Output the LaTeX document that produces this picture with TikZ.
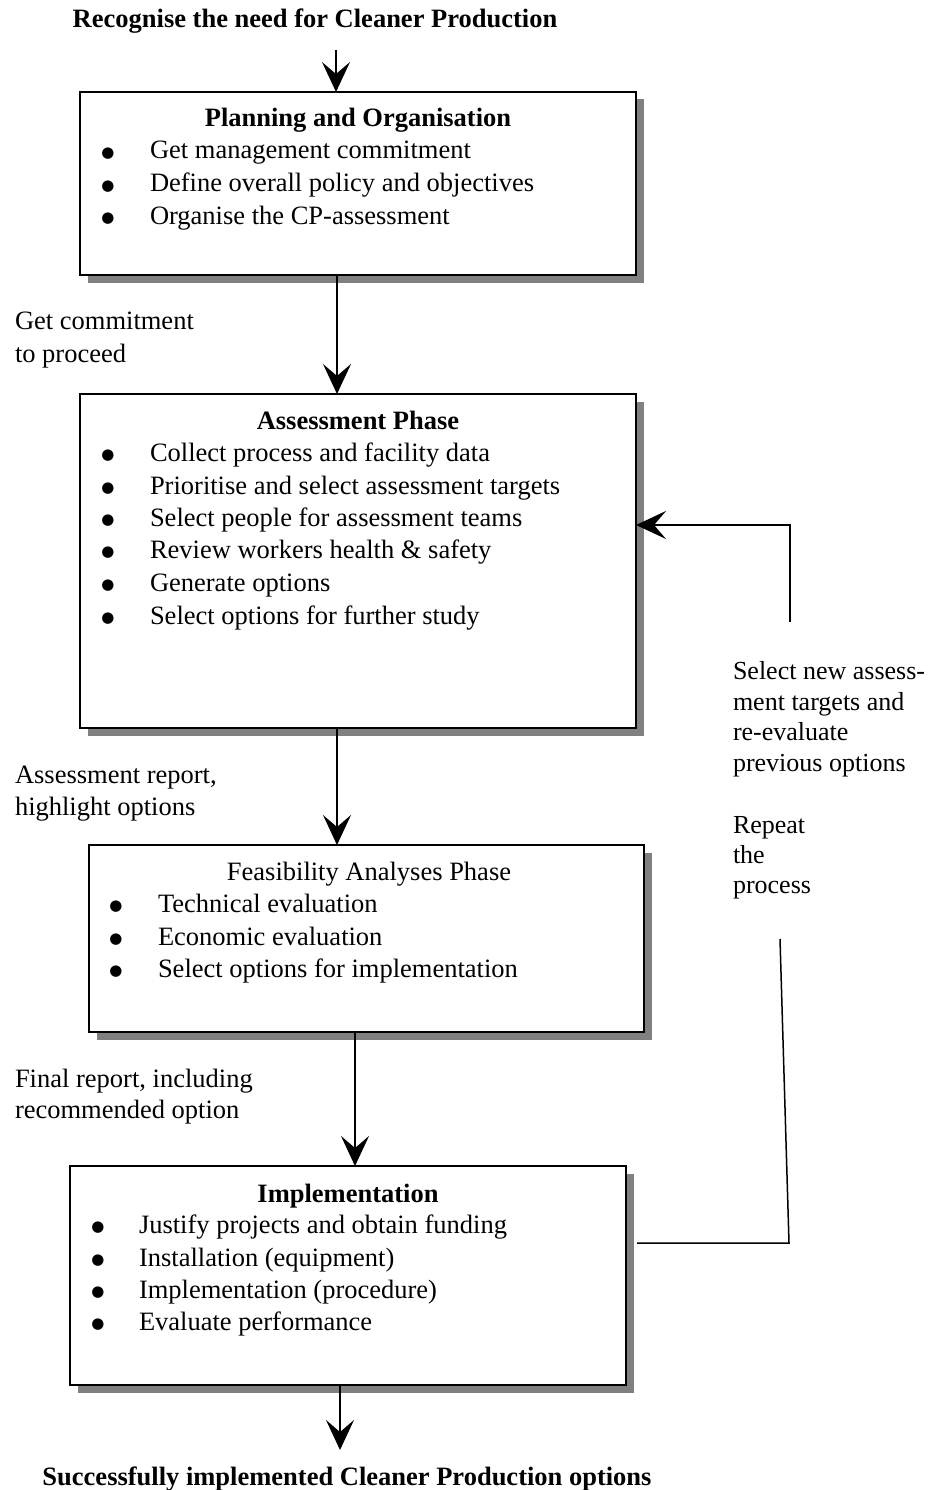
\documentclass[tikz,border=0pt]{standalone}
\usepackage{fontspec}
\setmainfont{Liberation Serif}
\newfontfamily\dotfont{DejaVu Sans}
\usetikzlibrary{arrows.meta,shadows}
\begin{document}
\begin{tikzpicture}[x=1pt,y=-1pt,
  every node/.style={inner sep=0pt,outer sep=0pt,font=\fontsize{26.5}{33}\selectfont},
  box/.style={draw,line width=1.8pt,fill=white,anchor=north west,
    drop shadow={shadow xshift=7.5pt,shadow yshift=-7.5pt,fill=black!50,opacity=1}},
  arr/.style={line width=1.5pt,-{Stealth[length=30pt,width=28pt,inset=12pt]}},
  link/.style={line width=1.5pt},
  ttl/.style={anchor=base,font=\fontsize{26.5}{33}\selectfont\bfseries},
  hd/.style={anchor=base},
  bul/.style={anchor=center,yshift=5pt,font=\dotfont\fontsize{15}{15}\selectfont},
  itm/.style={anchor=base west},
  lbl/.style={anchor=base west},
  note/.style={anchor=base west,font=\fontsize{26}{30.5}\selectfont}]
\useasboundingbox (0,0) rectangle (934,1490);

% phase boxes
\node[box,minimum width=556pt,minimum height=183pt] (b1) at (80,92) {};
\node[box,minimum width=556pt,minimum height=334pt] (b2) at (80,394) {};
\node[box,minimum width=555pt,minimum height=187pt] (b3) at (89,845) {};
\node[box,minimum width=556pt,minimum height=219pt] (b4) at (70,1166) {};

% start and result
\node[ttl] (start) at (315,28) {Recognise the need for Cleaner Production};
\node[ttl] (result) at (347,1485) {Successfully implemented Cleaner Production options};

% Planning and Organisation
\node[ttl] (t1) at (358,127) {Planning and Organisation};
\foreach \y/\t [count=\i] in {159/Get management commitment,
    191.5/Define overall policy and objectives,
    224/Organise the CP-assessment}{
  \node[bul] (p1b\i) at (108,\y) {●};
  \node[itm] (p1t\i) at (150,\y) {\t};
}

% Assessment Phase
\node[ttl] (t2) at (358,429) {Assessment Phase};
\foreach \y/\t [count=\i] in {461/Collect process and facility data,
    494/Prioritise and select assessment targets,
    526/Select people for assessment teams,
    558/Review workers health \& safety,
    591/Generate options,
    624/Select options for further study}{
  \node[bul] (p2b\i) at (108,\y) {●};
  \node[itm] (p2t\i) at (150,\y) {\t};
}

% Feasibility Analyses Phase
\node[hd] (t3) at (369,880) {Feasibility Analyses Phase};
\foreach \y/\t [count=\i] in {912/Technical evaluation,
    945/Economic evaluation,
    977/Select options for implementation}{
  \node[bul] (p3b\i) at (116,\y) {●};
  \node[itm] (p3t\i) at (158,\y) {\t};
}

% Implementation
\node[ttl] (t4) at (348,1202) {Implementation};
\foreach \y/\t [count=\i] in {1233/Justify projects and obtain funding,
    1266/Installation (equipment),
    1298/Implementation (procedure),
    1330/Evaluate performance}{
  \node[bul] (p4b\i) at (98,\y) {●};
  \node[itm] (p4t\i) at (139,\y) {\t};
}

% transition labels
\node[lbl] (l1a) at (15,329) {Get commitment};
\node[lbl] (l1b) at (15,362) {to proceed};
\node[lbl] (l2a) at (15,783) {Assessment report,};
\node[lbl] (l2b) at (15,815) {highlight options};
\node[lbl] (l3a) at (15,1087) {Final report, including};
\node[lbl] (l3b) at (15,1118) {recommended option};

\node[note] (r1) at (733,679) {Select new assess-};
\node[note] (r2) at (733,710) {ment targets and};
\node[note] (r3) at (733,740) {re-evaluate};
\node[note] (r4) at (733,771) {previous options};
\node[note] (r5) at (733,833) {Repeat};
\node[note] (r6) at (733,863) {the};
\node[note] (r7) at (733,893) {process};

% main flow
\coordinate (x1) at (336,50);
\coordinate (x2) at (337,0);
\coordinate (x3) at (337,0);
\coordinate (x4) at (355,0);
\coordinate (x5) at (340,1450);
\draw[arr] (x1) -- (b1.north -| x1);
\draw[arr] (b1.south -| x2) -- (b2.north -| x2);
\draw[arr] (b2.south -| x3) -- (b3.north -| x3);
\draw[arr] (b3.south -| x4) -- (b4.north -| x4);
\draw[arr] (b4.south -| x5) -- (x5);

% feedback loop
\coordinate (f1) at (637,1243);
\coordinate (f2) at (789,1243);
\coordinate (f3) at (780,939);
\coordinate (f4) at (790,622);
\coordinate (f5) at (790,525);
\draw[link] (f1) -- (f2) -- (f3);
\draw[arr] (f4) -- (f5) -- (b2.east |- f5);
\end{tikzpicture}
\end{document}
